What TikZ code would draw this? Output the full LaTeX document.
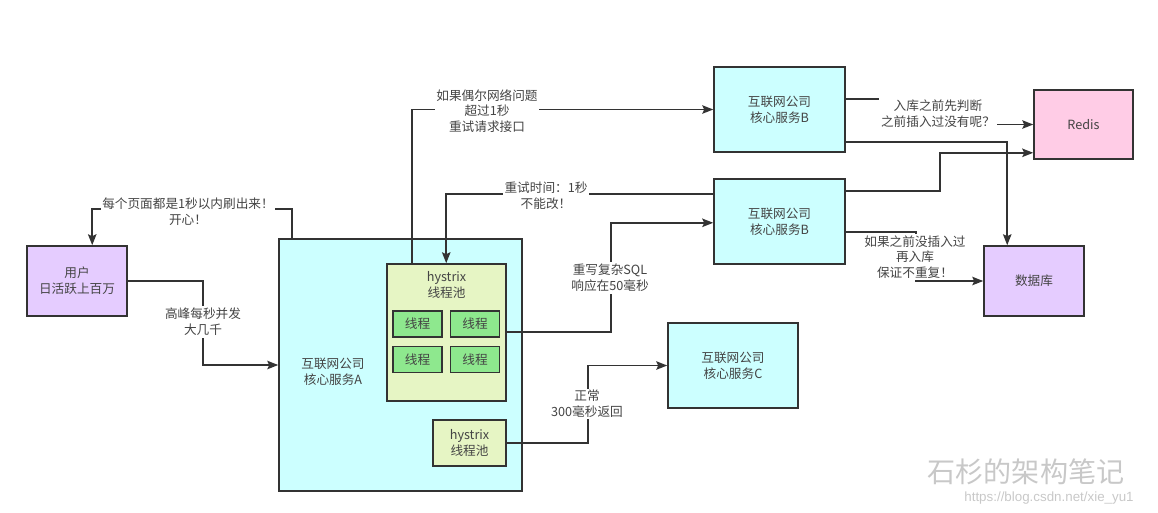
\documentclass[tikz,border=0pt]{standalone}
\usepackage{fontspec}
\setmainfont{Noto Sans CJK SC}
\newfontfamily\wmfont{Liberation Sans}
\usepackage{tikz}
\usetikzlibrary{arrows.meta,calc}

\definecolor{svccyan}{HTML}{CCFFFF}
\definecolor{userpurple}{HTML}{E5CCFF}
\definecolor{redispink}{HTML}{FFCCE6}
\definecolor{poolgreen}{HTML}{E6F5C4}
\definecolor{threadgreen}{HTML}{8EE88E}
\definecolor{edgegrey}{HTML}{333333}
\definecolor{txtgrey}{HTML}{444444}
\definecolor{wmgrey}{HTML}{C8C8C8}

\begin{document}
\begin{tikzpicture}[x=0.02cm,y=-0.02cm,>={Stealth[length=2.2mm,width=1.7mm,inset=0.4mm]},
    font=\fontsize{7.2}{9}\selectfont,
    box/.style={draw=edgegrey,line width=0.9pt,align=center,inner sep=0pt,text=txtgrey},
    svc/.style={box,fill=svccyan,minimum width=2.62cm,minimum height=1.7cm},
    store/.style={box,minimum width=2cm,minimum height=1.4cm},
    pool/.style={box,fill=poolgreen},
    thread/.style={box,fill=threadgreen,minimum width=0.98cm,minimum height=0.52cm},
    lbl/.style={fill=white,align=center,inner sep=1pt,text=txtgrey},
    link/.style={->,draw=edgegrey,line width=0.9pt}]
    \useasboundingbox (0,0) rectangle (1158,512);

    % boxes
    \node[store,fill=userpurple] (U) at (77,281) {用户\\日活跃上百万};
    \node[box,fill=svccyan,minimum width=4.86cm,minimum height=5.04cm] (A) at (400.5,365) {};
    \node[text=txtgrey,align=center] (Atxt) at (333,372) {互联网公司\\核心服务A};
    \node[pool,minimum width=2.38cm,minimum height=2.74cm] (P) at (446.5,332.5) {};
    \node[text=txtgrey,align=center] (Ptxt) at (446.5,285) {hystrix\\线程池};
    \node[thread] (T1) at (417.5,324) {线程};
    \node[thread] (T2) at (475,324) {线程};
    \node[thread] (T3) at (417.5,359.5) {线程};
    \node[thread] (T4) at (475,359.5) {线程};
    \node[pool,minimum width=1.46cm,minimum height=0.92cm] (S) at (469.5,443) {hystrix\\线程池};
    \node[svc] (B1) at (779.5,109.5) {互联网公司\\核心服务B};
    \node[svc] (B2) at (779.5,221.5) {互联网公司\\核心服务B};
    \node[svc,minimum width=2.6cm] (C) at (733,365.5) {互联网公司\\核心服务C};
    \node[store,fill=redispink,minimum width=1.98cm,minimum height=1.38cm] (R) at (1083.5,124.5) {Redis};
    \node[store,fill=userpurple] (D) at (1034,281) {数据库};

    % connectors
    \draw[link] (U.east) -- (203,281) |- (A.west);
    \draw[link] ($(A.north west)+(14,0)$) -- ++(0,-29) -| ($(U.north west)+(66,0)$);
    \draw[link] ($(P.north west)+(26,0)$) |- (B1.west);
    \draw[link] ($(B2.north west)+(0,16)$) -| ($(P.north west)+(60,0)$);
    \draw[link] ($(P.north east)+(0,69)$) -- ++(104,0) |- ($(B2.south west)+(0,-42)$);
    \draw[link] (S.east) -- ++(81,0) |- (C.west);
    \draw[link] ($(B1.north east)+(0,33)$) -- ++(93,0) |- (R.west);
    \draw[link] ($(B1.south east)+(0,-11)$) -| ($(D.north west)+(24,0)$);
    \draw[link] ($(B2.north east)+(0,13)$) -- ++(94,0) |- ($(R.south west)+(0,-7)$);
    \draw[link] ($(B2.south east)+(0,-33)$) -- ++(70,0) |- (D.west);

    % labels on the connectors
    \node[lbl] (l1) at (203,322) {高峰每秒并发\\大几千};
    \node[lbl] (l2) at (188,212) {每个页面都是1秒以内刷出来！\\开心！};
    \node[lbl] (l3) at (487,111) {如果偶尔网络问题\\超过1秒\\重试请求接口};
    \node[lbl] (l4) at (546,196) {重试时间：1秒\\不能改！};
    \node[lbl] (l5) at (610,278) {重写复杂SQL\\响应在50毫秒};
    \node[lbl] (l6) at (587,404) {正常\\300毫秒返回};
    \node[lbl] (l7) at (938,114) {入库之前先判断\\之前插入过没有呢？};
    \node[lbl] (l8) at (915,257) {如果之前没插入过\\再入库\\保证不重复！};

    % watermark
    \node[text=wmgrey,font=\fontsize{16}{18}\selectfont] (wm) at (1026,472) {石杉的架构笔记};
    \node[text=wmgrey,font=\wmfont\fontsize{7.6}{9}\selectfont] (url) at (1049,498) {https://blog.csdn.net/xie\_yu1};
\end{tikzpicture}
\end{document}
